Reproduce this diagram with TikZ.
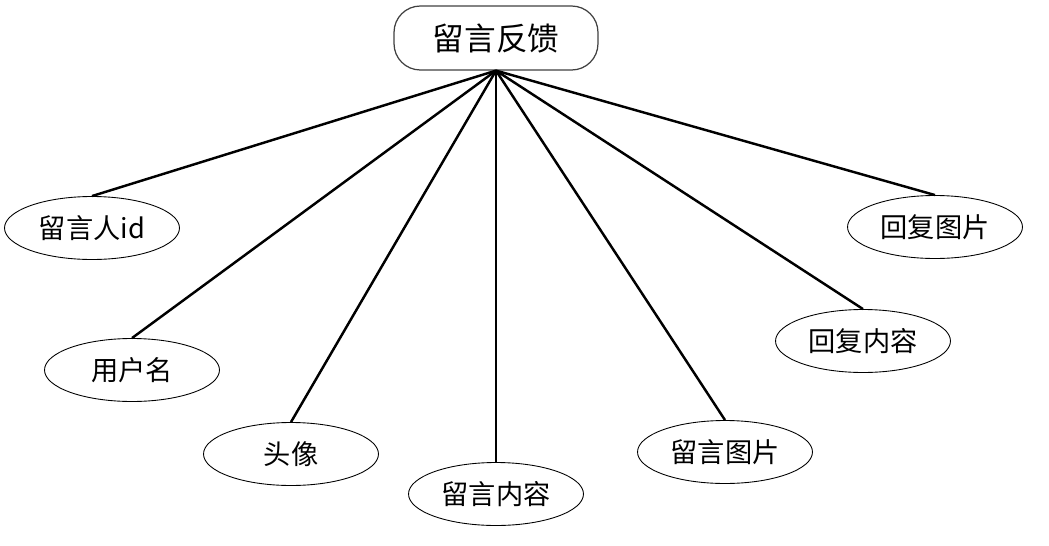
\documentclass[tikz,border=0pt]{standalone}
\usepackage{fontspec}
\setmainfont{Noto Sans CJK SC}
\usetikzlibrary{shapes.geometric}
\definecolor{edgegray}{HTML}{404040}
\tikzset{
  entbox/.style={
    rectangle, rounded corners=15pt, draw=edgegray, line width=0.7pt,
    minimum width=4.08cm, minimum height=1.28cm,
    font=\fontsize{18pt}{21pt}\selectfont, align=center
  },
  attr/.style={
    ellipse, draw=black, line width=0.5pt,
    minimum width=3.5cm, minimum height=1.26cm, inner sep=0pt,
    font=\fontsize{15.5pt}{18pt}\selectfont
  },
  link/.style={line width=1.4pt, black}
}
\begin{document}
\begin{tikzpicture}[x=0.02cm, y=-0.02cm]

\useasboundingbox (0,0) rectangle (1049,545);

% ── Entity ────────────────────────────────────────────────────────
\node[entbox] (fb) at (496, 38) {留言反馈};

% ── Attributes ────────────────────────────────────────────────────
\node[attr] (uid)   at (92, 228)  {留言人id};
\node[attr] (uname) at (132, 370) {用户名};
\node[attr] (avt)   at (291, 454) {头像};
\node[attr] (msg)   at (496, 494) {留言内容};
\node[attr] (mpic)  at (725, 452) {留言图片};
\node[attr] (rmsg)  at (863, 341) {回复内容};
\node[attr] (rpic)  at (935, 227) {回复图片};

% ── Links ─────────────────────────────────────────────────────────
\foreach \a in {uid,uname,avt,msg,mpic,rmsg,rpic}
  \draw[link] (fb.south) -- (\a.north);

\end{tikzpicture}
\end{document}
